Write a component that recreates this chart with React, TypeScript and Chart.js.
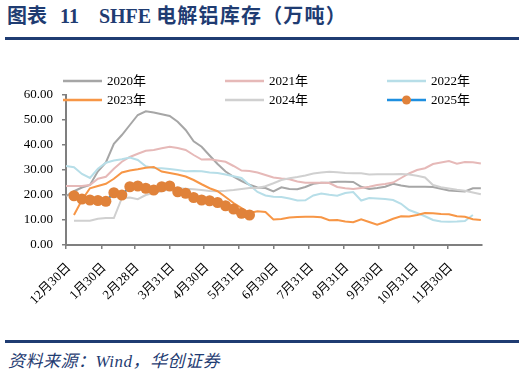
import React, { useEffect, useRef } from "react";
import { Chart, registerables } from "chart.js";

Chart.register(...registerables);

// x axis: days since Dec 30 of the previous year, data are weekly
const tickDays = [0, 31, 60, 91, 121, 152, 182, 213, 244, 274, 305, 335];
const tickLabels = [
  "12月30日", "1月30日", "2月28日", "3月31日", "4月30日", "5月31日",
  "6月30日", "7月31日", "8月31日", "9月30日", "10月31日", "11月30日",
];
const daysInYear = 365;
const daysPerWeek = 7;

const yMin = 0;
const yMax = 60;
const yStep = 10;

const seriesNames = ["2020年", "2021年", "2022年", "2023年", "2024年", "2025年"];
const seriesStartWeek = [0, 0, 0, 1, 1, 1];

const s2020 = [19.5, 21.5, 23, 24, 29.5, 33, 40.5, 44, 48, 52, 53.5, 53, 52.3, 51.6, 49.3, 46, 41.5, 39.3, 35.8, 32.4, 29.4, 27.3, 25.6, 24.1, 23, 22.8, 21.4, 23.1, 22.4, 22.3, 23.2, 24.5, 24.9, 25, 25.3, 25.3, 25.2, 23.3, 22.4, 22.8, 23.3, 24.5, 23.8, 23.3, 23.3, 23.3, 23.2, 22.5, 21.8, 21.6, 21.4, 22.7, 22.7];
const s2021 = [23.6, 23.6, 23.6, 24, 26.5, 27.3, 30.5, 33.3, 35.2, 36.5, 37.7, 38, 38.7, 39.3, 38.8, 38, 36, 34.2, 34.3, 33.8, 33.3, 31.6, 29.8, 29.6, 29, 28, 27, 26.6, 26.3, 25.4, 24.9, 24.9, 24.9, 24.8, 23.2, 22.7, 22.4, 22.8, 23.3, 24, 24.4, 25, 26.8, 28.6, 30, 30.7, 32.4, 33, 33.6, 32.5, 33.2, 33.1, 32.6];
const s2022 = [31.6, 31.1, 28.4, 26.8, 30.5, 32.9, 33.8, 34.3, 35, 34, 31.5, 30.8, 30.7, 30.4, 30, 29.5, 29.6, 29.5, 29, 28.8, 28.2, 27.5, 26.8, 24, 21.2, 19.8, 19.3, 19.2, 18.6, 17.8, 17.9, 19.8, 20.6, 20.1, 19.7, 20.8, 21.2, 17.8, 18.8, 18.6, 18.4, 18, 16.5, 14, 12.8, 11.5, 10, 9.4, 9.3, 9.4, 9.6, 12];
const s2023 = [12, 18, 22.7, 23.6, 24.5, 26.5, 29, 29.8, 30.3, 30.9, 31.2, 29.4, 28.8, 28.2, 27.4, 26, 24.3, 22.7, 21.5, 19.2, 16.8, 14.8, 12.8, 13.5, 13.2, 10.2, 10.4, 11, 11.2, 11.3, 11.3, 11.1, 9.9, 10, 9.4, 9.1, 10.3, 9.2, 8.1, 9.2, 10.5, 11.5, 11.4, 12, 12.8, 12.7, 12.4, 12.3, 11.5, 11.3, 10.3, 10];
const s2024 = [9.7, 9.7, 9.7, 10.5, 10.8, 10.8, 18.7, 19, 18.3, 20, 20.9, 21.5, 22.3, 22.7, 22.5, 22.3, 22, 21.6, 21.5, 21.7, 22, 22.4, 22.8, 22.8, 23.5, 24.7, 26, 26.7, 27.2, 27.8, 28.6, 29, 29.3, 29.1, 28.8, 28.7, 28.7, 28.2, 28.3, 28.3, 28.3, 28.4, 28.2, 27.7, 27, 24, 23.1, 22.6, 22.1, 21.7, 21, 20.3];
const s2025 = [19.7, 18.4, 18, 17.8, 17.5, 20.9, 20, 23.3, 23.6, 22.7, 22, 23.3, 23.6, 21.3, 20.7, 19, 18, 17.7, 17, 15.7, 14.4, 12.7, 12];

const seriesValues = [s2020, s2021, s2022, s2023, s2024, s2025];
const seriesColors = ["#A6A6A6", "#E6B9B8", "#B7DEE8", "#F79646", "#D0D0D0", "#1E8FE0"];
const markerColor = "#E0823A";

const SERIF = "'Liberation Serif', 'Times New Roman', 'Noto Sans CJK SC', serif";
const NAVY = "#1F3C72";

const toPoints = (vals: number[], start: number) =>
  vals.map((v, i) => ({ x: start + i, y: v }));

const legendPlugin = {
  id: "customLegend",
  afterDraw(chart: any) {
    const ctx = chart.ctx as CanvasRenderingContext2D;
    const colX = [63, 225, 387];
    const rowY = [41, 60];
    ctx.save();
    ctx.font = `13px ${SERIF}`;
    ctx.textBaseline = "middle";
    ctx.textAlign = "left";
    seriesNames.forEach((name, i) => {
      const x = colX[i % 3];
      const y = rowY[Math.floor(i / 3)];
      ctx.strokeStyle = seriesColors[i];
      ctx.lineWidth = 2.5;
      ctx.beginPath();
      ctx.moveTo(x, y);
      ctx.lineTo(x + 39, y);
      ctx.stroke();
      if (i === 5) {
        ctx.fillStyle = markerColor;
        ctx.beginPath();
        ctx.arc(x + 19.5, y, 4.5, 0, Math.PI * 2);
        ctx.fill();
      }
      ctx.fillStyle = "#000";
      ctx.fillText(name, x + 44, y + 1);
    });
    ctx.restore();
  },
};

function ChartView() {
  const ref = useRef<HTMLCanvasElement | null>(null);
  useEffect(() => {
    if (!ref.current) return;
    const datasets = seriesNames.map((name, i) => ({
      label: name,
      data: toPoints(seriesValues[i], seriesStartWeek[i]),
      borderColor: seriesColors[i],
      backgroundColor: seriesColors[i],
      borderWidth: 2,
      pointRadius: i === 5 ? 5.5 : 0,
      pointBackgroundColor: i === 5 ? markerColor : seriesColors[i],
      pointBorderColor: i === 5 ? markerColor : seriesColors[i],
      pointBorderWidth: 0,
      tension: 0,
      order: i === 5 ? 0 : i === 3 ? 1 : 6 - i,
    }));
    const chart = new Chart(ref.current, {
      type: "line",
      data: { datasets },
      options: {
        responsive: false,
        animation: false,
        layout: { padding: { top: 55, right: 42, left: 0, bottom: 0 } },
        plugins: { legend: { display: false }, tooltip: { enabled: false } },
        scales: {
          x: {
            type: "linear",
            min: 0,
            max: daysInYear / daysPerWeek,
            afterBuildTicks: (scale: any) => {
              scale.ticks = tickDays.map((d) => ({ value: d / daysPerWeek }));
            },
            afterFit: (scale: any) => {
              scale.height = 95;
            },
            grid: {
              display: true,
              drawOnChartArea: false,
              drawTicks: true,
              tickLength: 4,
              color: "#7F7F7F",
              lineWidth: 1.5,
            },
            border: { display: true, color: "#7F7F7F", width: 2 },
            ticks: {
              autoSkip: false,
              maxRotation: 45,
              minRotation: 45,
              padding: 11,
              labelOffset: 3,
              color: "#000",
              font: { family: SERIF, size: 13 },
              callback: (_v: any, i: number) => tickLabels[i],
            },
          },
          y: {
            min: yMin,
            max: yMax,
            afterFit: (scale: any) => {
              scale.width = 66;
            },
            grid: {
              display: true,
              drawOnChartArea: false,
              drawTicks: true,
              tickLength: 4,
              color: "#7F7F7F",
              lineWidth: 1.5,
            },
            border: { display: true, color: "#7F7F7F", width: 2 },
            ticks: {
              stepSize: yStep,
              padding: 9,
              color: "#000",
              font: { family: SERIF, size: 13 },
              callback: (v: any) => Number(v).toFixed(2),
            },
          },
        },
      },
      plugins: [legendPlugin],
    });
    return () => chart.destroy();
  }, []);
  return (
    <canvas
      ref={ref}
      width={524}
      height={300}
      style={{ position: "absolute", left: 0, top: 40, width: 524, height: 300 }}
    />
  );
}

export default function App() {
  return (
    <div
      style={{
        position: "fixed",
        left: 0,
        top: 0,
        width: 524,
        height: 376,
        background: "#fff",
        overflow: "hidden",
      }}
    >
      <div
        style={{
          position: "absolute",
          left: 7,
          top: 4,
          fontFamily: SERIF,
          fontWeight: "bold",
          fontSize: 20,
          color: NAVY,
          whiteSpace: "pre",
          lineHeight: "24px",
        }}
      >
        <span>图表</span>
        <span style={{ marginLeft: 13 }}>11</span>
        <span style={{ marginLeft: 20 }}>SHFE</span>
        <span style={{ marginLeft: 5, letterSpacing: 1.2 }}>电解铝库存（万吨）</span>
      </div>
      <div
        style={{
          position: "absolute",
          left: 5,
          top: 37,
          width: 514,
          height: 3,
          background: NAVY,
        }}
      />
      <ChartView />
      <div
        style={{
          position: "absolute",
          left: 5,
          top: 340,
          width: 514,
          height: 3,
          background: NAVY,
        }}
      />
      <div
        style={{
          position: "absolute",
          left: 8,
          top: 351,
          fontFamily: SERIF,
          fontStyle: "italic",
          fontSize: 17,
          letterSpacing: 0.5,
          color: NAVY,
          whiteSpace: "pre",
          lineHeight: "22px",
        }}
      >
        资料来源：Wind，华创证券
      </div>
    </div>
  );
}
